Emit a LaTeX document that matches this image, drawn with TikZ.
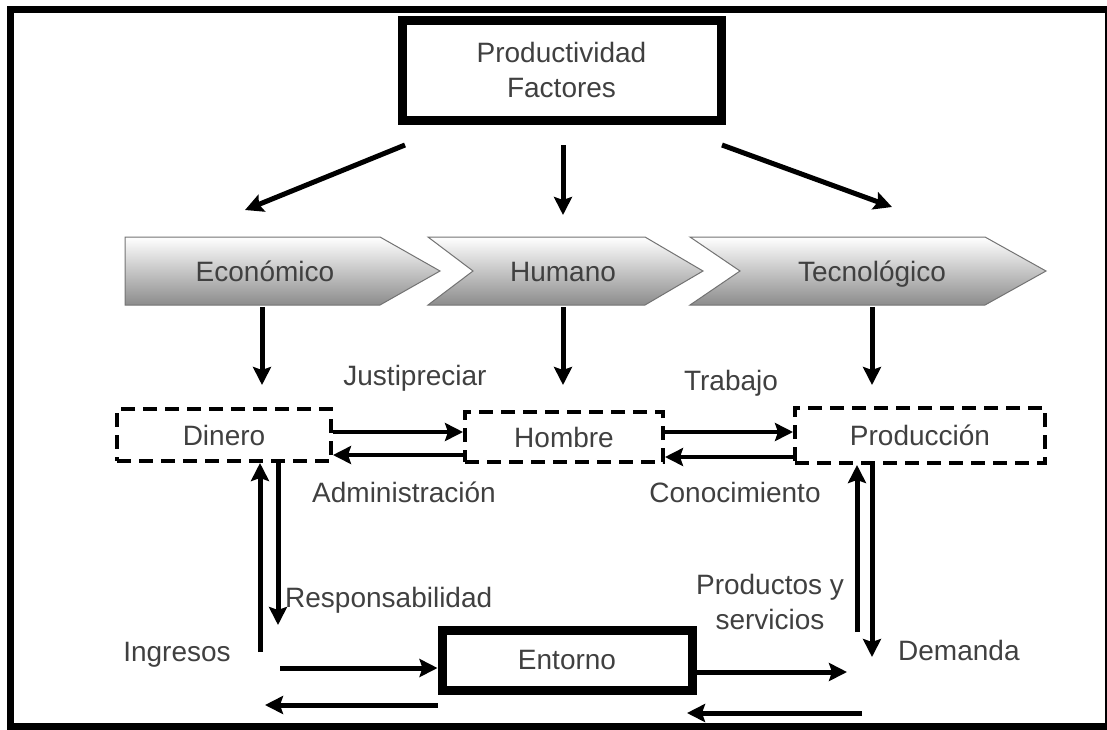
\documentclass[tikz,border=0pt]{standalone}
\usepackage{fontspec}
\setmainfont{Liberation Sans}
\usetikzlibrary{arrows.meta}
\begin{document}
\begin{tikzpicture}[x=1pt, y=-1pt, font=\fontsize{28}{35}\selectfont, >={Stealth[length=18pt,width=18pt,inset=3pt]},
  caja/.style={draw, line width=4pt, dash pattern=on 14pt off 8pt, text=black!75, inner sep=0pt},
  marco/.style={draw, line width=9pt, text=black!75, inner sep=0pt, align=center},
  etiq/.style={text=black!75, inner sep=0pt, align=center},
  flecha/.style={->, line width=5pt},
  flechita/.style={->, line width=3.5pt},
  factor/.style={top color=white, bottom color=black!45, draw=black!55, line width=1pt}]
\useasboundingbox (0,0) rectangle (1107,729);
\draw[line width=7pt] (10.5,9.5) rectangle (1108,726);
% cajas
\node[marco, minimum width=319pt, minimum height=100pt] (prod) at (561.5,70) {Productividad\\Factores};
\node[caja, minimum width=214pt, minimum height=52pt] (din) at (224,435) {Dinero};
\node[caja, minimum width=198pt, minimum height=50pt] (hom) at (564,437) {Hombre};
\node[caja, minimum width=250pt, minimum height=55pt] (pro) at (920,435.5) {Producción};
\node[marco, minimum width=250pt, minimum height=60pt] (ent) at (567,660) {Entorno};
% factores
\shade[factor] (125,237) -- (380,237) -- (440,271) -- (380,305) -- (125,305) -- cycle;
\shade[factor] (428,237) -- (645,237) -- (703,271) -- (645,305) -- (428,305) -- (473,271) -- cycle;
\shade[factor] (690,237) -- (985,237) -- (1046,271) -- (985,305) -- (690,305) -- (740,271) -- cycle;
\node[etiq, anchor=base] (eco) at (265,281) {Económico};
\node[etiq, anchor=base] (hum) at (563,281) {Humano};
\node[etiq, anchor=base] (tec) at (872,281) {Tecnológico};
% etiquetas
\node[etiq] (jus) at (415,378) {Justipreciar};
\node[etiq] (adm) at (404,492) {Administración};
\node[etiq] (tra) at (731,383) {Trabajo};
\node[etiq] (con) at (735,492) {Conocimiento};
\node[etiq, anchor=west] (res) at (285,600) {Responsabilidad};
\node[etiq] (ing) at (177,655) {Ingresos};
\node[etiq] (pys) at (770,602) {Productos y\\servicios};
\node[etiq, anchor=west] (dem) at (898,650) {Demanda};
% extremos libres
\path
(405,145) coordinate (p1) (245,210) coordinate (e1)
(563,145) coordinate (p2) (563,215) coordinate (e2)
(722,145) coordinate (p3) (892,207) coordinate (e3)
(262,307) coordinate (f1) (262,385) coordinate (g1)
(563,307) coordinate (f2) (563,385) coordinate (g2)
(872,307) coordinate (f3) (872,385) coordinate (g3)
(260,652) coordinate (ingr) (278,625) coordinate (resp)
(857,632) coordinate (ofer) (872,657) coordinate (dema)
(280,668) coordinate (ent1) (265,705) coordinate (ent2)
(847,672) coordinate (ent3) (862,713) coordinate (ent4) (687,713) coordinate (ent5);
\foreach \a/\b in {p1/e1,p2/e2,p3/e3,f1/g1,f2/g2,f3/g3} \draw[flecha] (\a)--(\b);
% relaciones
\draw[flechita] ([yshift=3pt]din.east) -- ([yshift=5pt]hom.west);
\draw[flechita] ([yshift=-18pt]hom.west) -- ([yshift=-20pt]din.east);
\draw[flechita] ([yshift=5pt]hom.east) -- ([yshift=3.5pt]pro.west);
\draw[flechita] ([yshift=-21.5pt]pro.west) -- ([yshift=-20pt]hom.east);
\draw[flecha] (ingr) -- (ingr|-din.south);
\draw[flecha] (resp|-din.south) -- (resp);
\draw[flecha] (ofer) -- (ofer|-pro.south);
\draw[flecha] (dema|-pro.south) -- (dema);
\draw[flecha] (ent1) -- (ent1-|ent.west);
\draw[flecha] (ent2-|ent.west) -- (ent2);
\draw[flecha] (ent3-|ent.east) -- (ent3);
\draw[flecha] (ent4) -- (ent5);
\end{tikzpicture}
\end{document}
